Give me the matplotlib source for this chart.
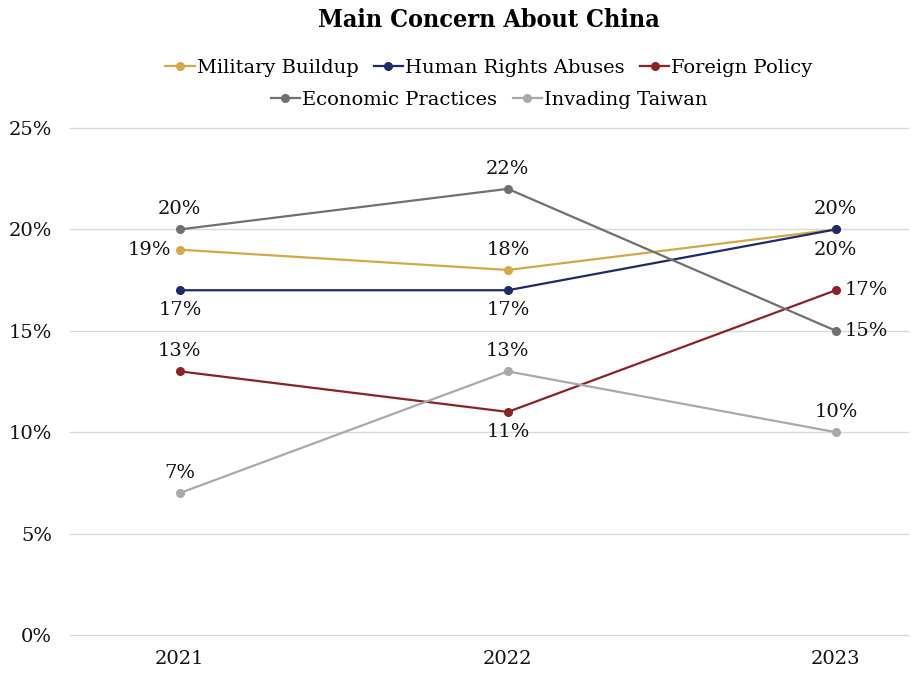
import matplotlib.pyplot as plt

# Survey results: share naming each issue as main concern about China
years = ['2021', '2022', '2023']
military = [19, 18, 20]
human_rights = [17, 17, 20]
foreign_policy = [13, 11, 17]
economic = [20, 22, 15]
taiwan = [7, 13, 10]

series = [
    ('Military Buildup', military, '#D4A845', ['left', 'above', 'below']),
    ('Human Rights Abuses', human_rights, '#1F2A6A', ['below', 'below', 'above']),
    ('Foreign Policy', foreign_policy, '#8B2326', ['above', 'below', 'right']),
    ('Economic Practices', economic, '#707070', ['above', 'above', 'right']),
    ('Invading Taiwan', taiwan, '#A9A9A9', ['above', 'above', 'above']),
]

FONT = 'DejaVu Serif'
FS = 14
plt.rcParams['font.family'] = FONT

fig = plt.figure(figsize=(9.11, 6.73), dpi=100)
ax = fig.add_axes([70 / 911, 1 - 635 / 673, 838 / 911, 507 / 673])

x = list(range(len(years)))
handles = []
offsets = {'above': (0, 8, 'center', 'bottom'), 'below': (0, -8, 'center', 'top'),
           'left': (-6, 0, 'right', 'center'), 'right': (6, 0, 'left', 'center')}
for name, vals, color, places in series:
    h, = ax.plot(x, vals, color=color, lw=1.6, marker='o', ms=5.5, label=name, zorder=3)
    handles.append(h)
    for xi, v, p in zip(x, vals, places):
        dx, dy, ha, va = offsets[p]
        ax.annotate(f'{v}%', (xi, v), xytext=(dx, dy), textcoords='offset points',
                    ha=ha, va=va, fontsize=FS, color='#111111')

ax.set_xlim(-0.335, 2.22)
ax.set_ylim(0, 25)
ax.set_yticks(range(0, 26, 5))
ax.set_yticklabels([f'{t}%' for t in range(0, 26, 5)])
ax.set_xticks(x)
ax.set_xticklabels(years)
ax.tick_params(axis='both', length=0, labelsize=FS, colors='#111111')
ax.tick_params(axis='y', pad=13)
ax.tick_params(axis='x', pad=11)
ax.grid(axis='y', color='#D9D9D9', lw=1)
for gl in ax.yaxis.get_gridlines():
    gl.set_clip_on(False)
ax.set_axisbelow(True)
for s in ax.spines.values():
    s.set_visible(False)

# title and legend are centred over the plot area
cx = 489 / 911
fig.text(cx, 1 - 20 / 673, 'Main Concern About China', ha='center', va='center',
         fontsize=18, fontweight='bold', fontstretch='condensed')

legend_kw = dict(frameon=False, fontsize=FS, handlelength=1.5, handletextpad=0.1,
                 columnspacing=0.8, borderaxespad=0, borderpad=0)
fig.legend(handles=handles[:3], ncol=3, loc='center',
           bbox_to_anchor=(cx, 1 - 68 / 673), **legend_kw)
fig.legend(handles=handles[3:], ncol=2, loc='center',
           bbox_to_anchor=(cx, 1 - 100 / 673), **legend_kw)

fig.savefig('out.png', dpi=100)
